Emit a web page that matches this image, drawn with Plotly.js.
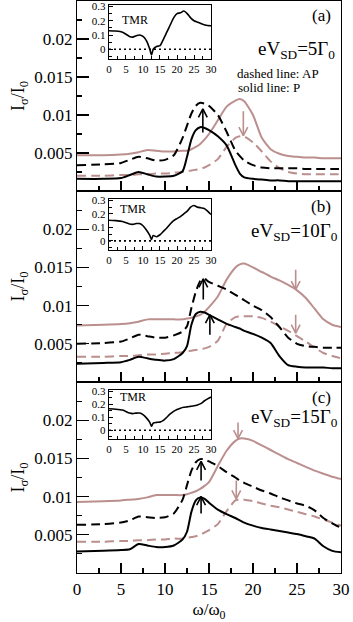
<!DOCTYPE html>
<html>
<head>
<meta charset="utf-8">
<script src="https://cdn.plot.ly/plotly-3.0.1.min.js"></script>
<style>
  body { margin: 0; background: #fff; }
  #chart { width: 353px; height: 622px; }
</style>
</head>
<body>
<div id="chart"></div>
<script>
// omega / omega_0 grid for the main panels
var w = [0, 3, 5, 6, 7, 8, 9, 10, 11, 12, 12.5, 13, 13.5, 14, 14.5, 15, 16, 17, 18, 18.5, 19, 20, 21, 22, 23, 24, 25, 26, 27, 28, 29, 30];

// eV_SD = 5 Gamma_0  (k = black, r = brown; P = solid, AP = dashed)
var kP5 = [0.0016, 0.0016, 0.0017, 0.0021, 0.0025, 0.0022, 0.0019, 0.0019, 0.0020, 0.0026, 0.0045, 0.0068, 0.0080, 0.0084, 0.0083, 0.0080, 0.0072, 0.0060, 0.0034, 0.0023, 0.0018, 0.0016, 0.0015, 0.0014, 0.0014, 0.0013, 0.0013, 0.0013, 0.0013, 0.0013, 0.0013, 0.0013];
var kAP5 = [0.0034, 0.0035, 0.0037, 0.0041, 0.0045, 0.0043, 0.0040, 0.0041, 0.0047, 0.0070, 0.0086, 0.0102, 0.0112, 0.0116, 0.0115, 0.0112, 0.0100, 0.0078, 0.0053, 0.0046, 0.0040, 0.0034, 0.0031, 0.0030, 0.0030, 0.0030, 0.0030, 0.0029, 0.0029, 0.0029, 0.0029, 0.0029];
var rP5 = [0.0047, 0.0047, 0.0048, 0.0049, 0.0051, 0.0054, 0.0053, 0.0052, 0.0052, 0.0053, 0.0053, 0.0055, 0.0058, 0.0062, 0.0068, 0.0075, 0.0093, 0.0111, 0.0119, 0.0121, 0.0118, 0.0100, 0.0070, 0.0055, 0.0049, 0.0046, 0.0045, 0.0044, 0.0044, 0.0043, 0.0043, 0.0043];
var rAP5 = [0.0020, 0.0020, 0.0021, 0.0021, 0.0022, 0.0022, 0.0023, 0.0023, 0.0024, 0.0025, 0.0026, 0.0027, 0.0028, 0.0029, 0.0031, 0.0034, 0.0042, 0.0058, 0.0070, 0.0072, 0.0072, 0.0064, 0.0052, 0.0039, 0.0030, 0.0025, 0.0023, 0.0022, 0.0022, 0.0022, 0.0022, 0.0022];

// eV_SD = 10 Gamma_0
var kP10 = [0.0024, 0.0025, 0.0026, 0.0029, 0.0033, 0.0031, 0.0029, 0.0028, 0.0030, 0.0038, 0.0047, 0.0075, 0.0089, 0.0092, 0.0091, 0.0088, 0.0082, 0.0076, 0.0072, 0.0070, 0.0067, 0.0063, 0.0058, 0.0051, 0.0034, 0.0022, 0.0020, 0.0019, 0.0019, 0.0019, 0.0018, 0.0018];
var kAP10 = [0.0050, 0.0051, 0.0053, 0.0057, 0.0062, 0.0060, 0.0058, 0.0058, 0.0061, 0.0066, 0.0073, 0.0097, 0.0118, 0.0132, 0.0135, 0.0131, 0.0126, 0.0121, 0.0114, 0.0111, 0.0107, 0.0100, 0.0094, 0.0085, 0.0072, 0.0058, 0.0050, 0.0047, 0.0046, 0.0045, 0.0045, 0.0045];
var rP10 = [0.0074, 0.0075, 0.0076, 0.0077, 0.0079, 0.0082, 0.0082, 0.0082, 0.0082, 0.0082, 0.0083, 0.0084, 0.0086, 0.0088, 0.0092, 0.0098, 0.0112, 0.0134, 0.0150, 0.0154, 0.0155, 0.0150, 0.0144, 0.0138, 0.0133, 0.0127, 0.0120, 0.0110, 0.0096, 0.0082, 0.0075, 0.0072];
var rAP10 = [0.0033, 0.0033, 0.0034, 0.0034, 0.0035, 0.0036, 0.0036, 0.0037, 0.0038, 0.0039, 0.0040, 0.0041, 0.0042, 0.0043, 0.0044, 0.0046, 0.0054, 0.0076, 0.0085, 0.0086, 0.0086, 0.0086, 0.0084, 0.0079, 0.0073, 0.0067, 0.0060, 0.0053, 0.0045, 0.0038, 0.0034, 0.0031];

// eV_SD = 15 Gamma_0
var kP15 = [0.0028, 0.0029, 0.0030, 0.0031, 0.0038, 0.0036, 0.0034, 0.0034, 0.0036, 0.0044, 0.0054, 0.0080, 0.0095, 0.0099, 0.0097, 0.0092, 0.0083, 0.0077, 0.0072, 0.0069, 0.0066, 0.0062, 0.0059, 0.0057, 0.0055, 0.0053, 0.0051, 0.0048, 0.0045, 0.0035, 0.0029, 0.0027];
var kAP15 = [0.0063, 0.0064, 0.0066, 0.0069, 0.0074, 0.0073, 0.0072, 0.0073, 0.0078, 0.0096, 0.0115, 0.0134, 0.0145, 0.0149, 0.0149, 0.0146, 0.0140, 0.0132, 0.0125, 0.0121, 0.0118, 0.0113, 0.0108, 0.0104, 0.0099, 0.0095, 0.0091, 0.0088, 0.0082, 0.0072, 0.0065, 0.0059];
var rP15 = [0.0093, 0.0094, 0.0095, 0.0096, 0.0097, 0.0099, 0.0102, 0.0102, 0.0102, 0.0102, 0.0103, 0.0105, 0.0107, 0.0110, 0.0114, 0.0119, 0.0140, 0.0160, 0.0173, 0.0176, 0.0176, 0.0173, 0.0167, 0.0161, 0.0155, 0.0149, 0.0144, 0.0139, 0.0134, 0.0130, 0.0126, 0.0123];
var rAP15 = [0.0041, 0.0041, 0.0042, 0.0042, 0.0043, 0.0043, 0.0044, 0.0044, 0.0045, 0.0045, 0.0046, 0.0047, 0.0048, 0.0050, 0.0053, 0.0056, 0.0064, 0.0081, 0.0095, 0.0096, 0.0096, 0.0094, 0.0091, 0.0088, 0.0086, 0.0083, 0.0080, 0.0077, 0.0074, 0.0070, 0.0066, 0.0062];

// TMR insets
var wt = [0, 2, 4, 6, 7, 8, 9, 10, 11, 12, 12.5, 13, 14, 15, 16, 17, 18, 19, 20, 21, 22, 23, 24, 25, 26, 27, 28, 29, 30];
var tmr5 = [0.13, 0.128, 0.12, 0.09, 0.085, 0.095, 0.1, 0.09, 0.06, 0.0, -0.04, 0.0, 0.02, 0.025, 0.07, 0.12, 0.17, 0.22, 0.25, 0.255, 0.268, 0.25, 0.22, 0.2, 0.19, 0.18, 0.172, 0.167, 0.165];
var tmr10 = [0.153, 0.150, 0.143, 0.125, 0.122, 0.128, 0.128, 0.112, 0.08, 0.04, 0.01, 0.04, 0.03, 0.045, 0.07, 0.095, 0.125, 0.15, 0.165, 0.18, 0.2, 0.22, 0.25, 0.262, 0.25, 0.245, 0.24, 0.22, 0.195];
var tmr15 = [0.165, 0.162, 0.155, 0.132, 0.128, 0.132, 0.132, 0.12, 0.095, 0.06, 0.03, 0.055, 0.06, 0.062, 0.075, 0.1, 0.125, 0.145, 0.16, 0.17, 0.177, 0.18, 0.184, 0.188, 0.195, 0.205, 0.225, 0.242, 0.256];

// arrows: panel, omega, tail value, tip value, colour key
var arrowPanel = [1, 1, 2, 2, 2, 2, 3, 3, 3, 3];
var arrowX = [14.3, 18.9, 14.35, 15.1, 24.85, 24.85, 14.1, 14.1, 18.3, 18.1];
var arrowTail = [0.0077, 0.0105, 0.0108, 0.0062, 0.0147, 0.0088, 0.0121, 0.0078, 0.0197, 0.0121];
var arrowTip = [0.0108, 0.0073, 0.0135, 0.0088, 0.0121, 0.0064, 0.0146, 0.0100, 0.0176, 0.0097];
var arrowCol = ["k", "r", "k", "k", "r", "r", "k", "k", "r", "r"];

var BLACK = "#000000";
var BROWN = "#bc8f8f";
var FONT = "'Liberation Serif', 'Times New Roman', serif";

function curve(y, n, color, dashed) {
  return {
    x: w, y: y, xaxis: "x" + (n == 1 ? "" : n), yaxis: "y" + (n == 1 ? "" : n),
    type: "scatter", mode: "lines", hoverinfo: "skip", showlegend: false,
    line: { color: color, width: 2, dash: dashed ? "9px,5px" : "solid", shape: "spline", smoothing: 0.6 }
  };
}

function inset(y, n) {
  return {
    x: wt, y: y, xaxis: "x" + n, yaxis: "y" + n,
    type: "scatter", mode: "lines", hoverinfo: "skip", showlegend: false,
    line: { color: BLACK, width: 1.6, shape: "spline", smoothing: 0.6 }
  };
}

function zeroLine(n) {
  return {
    x: [0, 30], y: [0, 0], xaxis: "x" + n, yaxis: "y" + n,
    type: "scatter", mode: "lines", hoverinfo: "skip", showlegend: false,
    line: { color: BLACK, width: 1.6, dash: "2px,3px" }
  };
}

var data = [
  curve(rP5, 1, BROWN, false), curve(rAP5, 1, BROWN, true), curve(kAP5, 1, BLACK, true), curve(kP5, 1, BLACK, false),
  curve(rP10, 2, BROWN, false), curve(rAP10, 2, BROWN, true), curve(kAP10, 2, BLACK, true), curve(kP10, 2, BLACK, false),
  curve(rP15, 3, BROWN, false), curve(rAP15, 3, BROWN, true), curve(kAP15, 3, BLACK, true), curve(kP15, 3, BLACK, false),
  zeroLine(4), inset(tmr5, 4),
  zeroLine(5), inset(tmr10, 5),
  zeroLine(6), inset(tmr15, 6)
];

// open "V" arrows, shaft plus two head strokes
for (var i = 0; i < arrowX.length; i++) {
  var n = arrowPanel[i];
  var dir = arrowTip[i] > arrowTail[i] ? 1 : -1;
  var hx = 0.5, hy = 0.0011 * dir;
  data.push({
    x: [arrowX[i], arrowX[i], null, arrowX[i] - hx, arrowX[i], arrowX[i] + hx],
    y: [arrowTail[i], arrowTip[i], null, arrowTip[i] - hy, arrowTip[i], arrowTip[i] - hy],
    xaxis: "x" + (n == 1 ? "" : n), yaxis: "y" + (n == 1 ? "" : n),
    type: "scatter", mode: "lines", hoverinfo: "skip", showlegend: false,
    line: { color: arrowCol[i] == "k" ? BLACK : BROWN, width: 1.6 }
  });
}

var panelDom = [[0.6678, 1], [0.3339, 0.6678], [0, 0.3339]];
var insetDom = [[0.8986, 0.993], [0.5647, 0.6538], [0.2343, 0.3199]];

function mainX(n) {
  return {
    range: [0, 30], domain: [0, 1], anchor: "y" + (n == 1 ? "" : n),
    showline: true, mirror: true, linecolor: BLACK, linewidth: 1.2,
    ticks: "inside", ticklen: 10, tickwidth: 1.2, tickcolor: BLACK,
    tickmode: "linear", tick0: 0, dtick: 5,
    minor: { ticks: "inside", ticklen: 5, tickwidth: 1.2, tickcolor: BLACK, tickmode: "linear", tick0: 0, dtick: 2.5 },
    showgrid: false, zeroline: false, showticklabels: n == 3,
    tickfont: { family: FONT, size: 17, color: BLACK },
    title: n == 3 ? { text: "ω/ω<sub>0</sub>", font: { family: FONT, size: 17, color: BLACK }, standoff: 6 } : { text: "" }
  };
}

function mainY(n) {
  return {
    range: [0, 0.025], domain: panelDom[n - 1], anchor: "x" + (n == 1 ? "" : n),
    showline: true, mirror: true, linecolor: BLACK, linewidth: 1.2,
    ticks: "inside", ticklen: 12, tickwidth: 1.2, tickcolor: BLACK,
    tickmode: "array", tickvals: [0.005, 0.01, 0.015, 0.02], ticktext: ["0.005", "0.01", "0.015", "0.02"],
    minor: { ticks: "inside", ticklen: 5, tickwidth: 1.2, tickcolor: BLACK, tickmode: "linear", tick0: 0, dtick: 0.0025 },
    showgrid: false, zeroline: false,
    tickfont: { family: FONT, size: 17, color: BLACK },
    title: { text: "I<sub>σ</sub>/I<sub>0</sub>", font: { family: FONT, size: 18, color: BLACK }, standoff: 4 }
  };
}

function insetX(n) {
  return {
    range: [0, 30], domain: [0.1212, 0.5076], anchor: "y" + n,
    showline: true, mirror: true, linecolor: BLACK, linewidth: 1.2,
    ticks: "inside", ticklen: 4, tickwidth: 1, tickcolor: BLACK,
    tickmode: "linear", tick0: 0, dtick: 5,
    minor: { ticks: "inside", ticklen: 3, tickwidth: 1, tickcolor: BLACK, tickmode: "linear", tick0: 0, dtick: 2.5 },
    showgrid: false, zeroline: false,
    tickfont: { family: FONT, size: 11, color: BLACK }
  };
}

function insetY(n) {
  return {
    range: [-0.068, 0.31], domain: insetDom[n - 4], anchor: "x" + n,
    showline: true, mirror: true, linecolor: BLACK, linewidth: 1.2,
    ticks: "inside", ticklen: 4, tickwidth: 1, tickcolor: BLACK,
    tickmode: "array", tickvals: [0, 0.1, 0.2, 0.3], ticktext: ["0", "0.1", "0.2", "0.3"],
    minor: { ticks: "inside", ticklen: 3, tickwidth: 1, tickcolor: BLACK, tickmode: "linear", tick0: 0, dtick: 0.05 },
    showgrid: false, zeroline: false,
    tickfont: { family: FONT, size: 11, color: BLACK }
  };
}

function txt(text, x, y, size, anchor) {
  return {
    text: text, x: x, y: y, xref: "paper", yref: "paper", xanchor: anchor, yanchor: "middle",
    showarrow: false, font: { family: FONT, size: size, color: BLACK }
  };
}

var layout = {
  width: 353, height: 622,
  margin: { l: 77, r: 12, t: 1, b: 49 },
  paper_bgcolor: "#ffffff", plot_bgcolor: "#ffffff",
  showlegend: false,
  font: { family: FONT, color: BLACK },
  xaxis: mainX(1), xaxis2: mainX(2), xaxis3: mainX(3),
  yaxis: mainY(1), yaxis2: mainY(2), yaxis3: mainY(3),
  xaxis4: insetX(4), xaxis5: insetX(5), xaxis6: insetX(6),
  yaxis4: insetY(4), yaxis5: insetY(5), yaxis6: insetY(6),
  annotations: [
    txt("(a)", 0.97, 0.9755, 17, "right"),
    txt("eV<sub>SD</sub>=5Γ<sub>0</sub>", 0.985, 0.914, 19, "right"),
    txt("dashed line: AP", 0.598, 0.874, 13, "left"),
    txt("solid line: P", 0.602, 0.848, 13, "left"),
    txt("(b)", 0.97, 0.64, 17, "right"),
    txt("eV<sub>SD</sub>=10Γ<sub>0</sub>", 0.995, 0.596, 19, "right"),
    txt("(c)", 0.97, 0.306, 17, "right"),
    txt("eV<sub>SD</sub>=15Γ<sub>0</sub>", 0.995, 0.271, 19, "right"),
    txt("TMR", 0.163, 0.967, 12, "left"),
    txt("TMR", 0.155, 0.636, 12, "left"),
    txt("TMR", 0.155, 0.308, 12, "left")
  ]
};

Plotly.newPlot("chart", data, layout, { staticPlot: true });
</script>
</body>
</html>
